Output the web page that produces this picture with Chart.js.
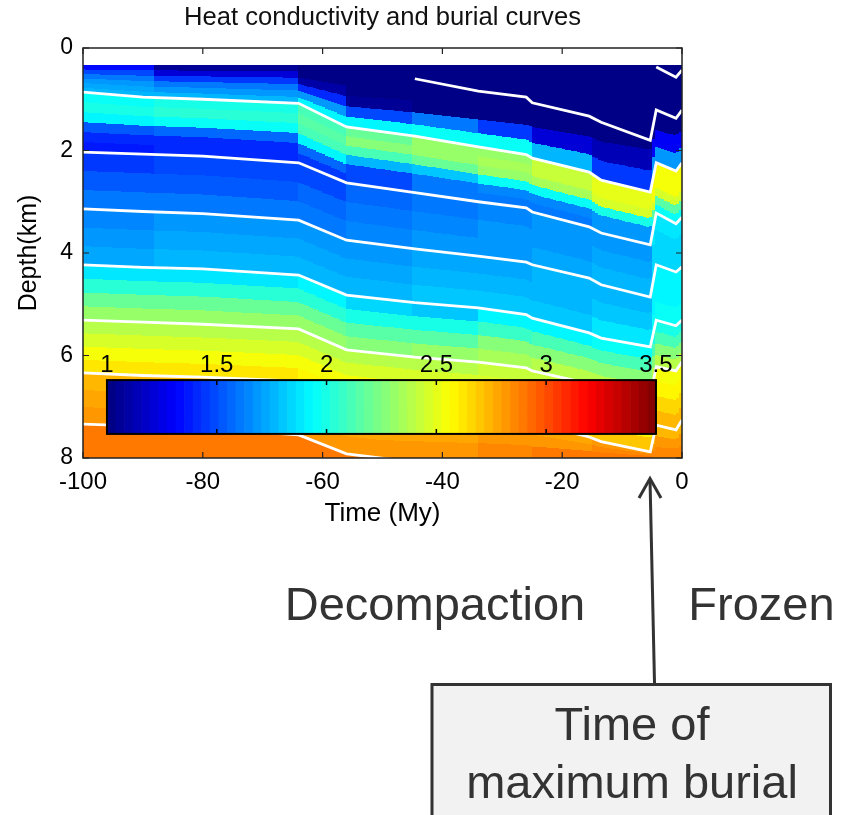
<!DOCTYPE html>
<html>
<head>
<meta charset="utf-8">
<title>Heat conductivity and burial curves</title>
<script src="https://cdn.jsdelivr.net/npm/chart.js@4.4.1/dist/chart.umd.min.js"></script>
<style>
  body { margin: 0; background: #fff; }
  #wrap { position: relative; width: 848px; height: 815px; overflow: hidden; }
  #chart { position: absolute; left: 0; top: 0; }
  #notes { position: absolute; left: 0; top: 0; }
</style>
</head>
<body>
<div id="wrap">
  <canvas id="chart" width="848" height="533"></canvas>
  <svg id="notes" width="848" height="815" font-family="Liberation Sans, Arial, sans-serif" font-size="47" fill="#333">
    <line x1="650" y1="479" x2="654.5" y2="683" stroke="#333" stroke-width="3"/>
    <polyline points="639,498 650,478.5 661,498" fill="none" stroke="#333" stroke-width="3"/>
    <rect x="432" y="684.5" width="398.5" height="140" fill="#f2f2f2" stroke="#333" stroke-width="3"/>
    <text x="435" y="620" text-anchor="middle">Decompaction</text>
    <text x="761.5" y="620" text-anchor="middle">Frozen</text>
    <text x="632" y="740" text-anchor="middle">Time of</text>
    <text x="632" y="798" text-anchor="middle">maximum burial</text>
  </svg>
</div>
<script>
// burial curves: depth (km) of each horizon at these times (My)
const times = [-100, -90, -80, -64, -56, -44.6, -34, -26, -25, -15.5, -13.5, -5.3, -4.3, -1, 0];
const h0b = [null, null, null, null, null, null, null, null, null, null, null, null, 0.37, 0.57, 0.43];
const h0a = [null, null, null, null, null, 0.60, 0.84, 0.96, 1.07, 1.33, 1.45, 1.80, 1.21, 1.37, 1.21];
const h1 = [0.86, 0.96, 1.00, 1.08, 1.54, 1.72, 1.93, 2.08, 2.15, 2.42, 2.58, 2.81, 2.24, 2.40, 2.24];
const h2 = [2.03, 2.07, 2.11, 2.24, 2.63, 2.82, 3.00, 3.12, 3.20, 3.49, 3.61, 3.84, 3.22, 3.43, 3.30];
const h3 = [3.14, 3.19, 3.23, 3.36, 3.75, 3.92, 4.06, 4.18, 4.23, 4.49, 4.62, 4.86, 4.23, 4.37, 4.27];
const h4 = [4.23, 4.28, 4.31, 4.43, 4.82, 4.97, 5.07, 5.20, 5.27, 5.56, 5.66, 5.83, 5.31, 5.42, 5.31];
const h5 = [5.31, 5.35, 5.39, 5.48, 5.89, 6.03, 6.13, 6.24, 6.30, 6.55, 6.64, 6.80, 6.22, 6.30, 6.12];
const h6 = [6.34, 6.39, 6.42, 6.50, 6.88, 7.02, 7.13, 7.25, 7.32, 7.59, 7.68, 7.88, 7.36, 7.45, 7.26];
const h7 = [7.34, 7.38, 7.42, 7.55, 7.92, 8.08, 8.20, null, null, null, null, null, null, null, null];

// heat conductivity (W/m/K): one row per time slice, sub-bands from top to bottom of each layer
const topDepth = 0.33;
const epochStarts = [-100, -88, -64, -56, -45, -34, -25, -15, -5];
const condTop = [
  [1.35, 1.5, 1.62, 1.68, 1.72, 1.75],
  [1.05, 1.2, 1.45, 1.62, 1.7, 1.76],
  [1.0, 1.0, 1.1, 1.4, 1.7, 1.9],
  [1.0, 1.0, 1.0, 1.05, 1.5, 1.92],
  [1.0, 1.0, 1.0, 1.02, 1.6, 1.95],
  [1.0, 1.0, 1.0, 1.0, 1.45, 1.95],
  [1.0, 1.0, 1.0, 1.02, 1.2, 1.75],
  [1.0, 1.0, 1.0, 1.02, 1.15, 1.45],
  [1.0, 1.0, 1.0, 1.0, 1.3, 1.7]
];
const condL1 = [
  [1.97, 2.0, 1.92, 1.52, 1.4, 1.38],
  [2.0, 2.02, 1.95, 1.55, 1.42, 1.4],
  [2.1, 2.15, 2.1, 1.9, 1.55, 1.45],
  [2.2, 2.25, 2.1, 1.75, 1.5, 1.5],
  [2.3, 2.3, 2.2, 1.8, 1.62, 1.6],
  [2.32, 2.33, 2.3, 1.95, 1.65, 1.62],
  [2.42, 2.43, 2.35, 1.95, 1.65, 1.62],
  [2.5, 2.52, 2.45, 2.0, 1.7, 1.68],
  [2.55, 2.56, 2.55, 2.45, 2.15, 1.95]
];
const condL2 = [
  [1.45, 1.52, 1.6], [1.47, 1.54, 1.62], [1.5, 1.55, 1.62], [1.55, 1.6, 1.65], [1.62, 1.65, 1.68],
  [1.66, 1.68, 1.7], [1.68, 1.7, 1.72], [1.7, 1.72, 1.75], [1.87, 1.85, 1.83]
];
const condL3 = [
  [1.66, 1.7, 1.74], [1.67, 1.71, 1.75], [1.68, 1.72, 1.76], [1.7, 1.74, 1.78], [1.72, 1.76, 1.8],
  [1.74, 1.77, 1.8], [1.76, 1.78, 1.8], [1.78, 1.82, 1.86], [1.9, 1.93, 1.95]
];
const condL4 = [
  [1.88, 2.05, 2.2, 2.32], [1.88, 2.05, 2.2, 2.32], [1.9, 2.05, 2.2, 2.3], [1.85, 2.0, 2.15, 2.28],
  [1.82, 2.0, 2.15, 2.3], [1.9, 2.08, 2.25, 2.35], [1.92, 2.1, 2.25, 2.38], [1.95, 2.1, 2.25, 2.38],
  [1.98, 2.1, 2.25, 2.38]
];
const condL5 = [
  [2.38, 2.45, 2.53, 2.62], [2.38, 2.45, 2.53, 2.62], [2.38, 2.45, 2.53, 2.6], [2.38, 2.45, 2.53, 2.6],
  [2.4, 2.47, 2.55, 2.62], [2.42, 2.48, 2.55, 2.63], [2.44, 2.5, 2.57, 2.65], [2.46, 2.52, 2.6, 2.68],
  [2.55, 2.6, 2.66, 2.72]
];
const condL6 = [
  [2.72, 2.77, 2.8], [2.72, 2.77, 2.8], [2.72, 2.77, 2.8], [2.72, 2.77, 2.82], [2.72, 2.77, 2.82],
  [2.75, 2.8, 2.85], [2.78, 2.83, 2.88], [2.8, 2.85, 2.88], [2.74, 2.8, 2.85]
];
const condL7 = [
  [2.88, 2.9], [2.88, 2.9], [2.88, 2.9], [2.88, 2.9], [2.88, 2.9],
  [null, null], [null, null], [null, null], [null, null]
];

// colour bar
const cbarMin = 1, cbarMax = 3.5;
const cbarTicks = [1, 1.5, 2, 2.5, 3, 3.5];
const cbarBox = { t0: -96, t1: -4.35, d0: 6.48, d1: 7.53 };

const chartTitle = 'Heat conductivity and burial curves';
const FONT = 'Liberation Sans, Arial, sans-serif';
Chart.defaults.font.family = FONT;
Chart.defaults.color = '#000';

// matlab style jet colormap, 64 levels
function jet(v) {
  let i = Math.floor((v - cbarMin) / (cbarMax - cbarMin) * 64);
  i = Math.max(0, Math.min(63, i));
  const f = (i + 0.5) / 64;
  const c = k => Math.round(255 * Math.max(0, Math.min(1, 1.5 - Math.abs(4 * f - k))));
  return 'rgb(' + c(3) + ',' + c(2) + ',' + c(1) + ')';
}

function depthAt(h, t) {
  for (let i = 0; i < times.length - 1; i++) {
    if (t >= times[i] && t <= times[i + 1]) {
      const a = h[i], b = h[i + 1];
      if (a == null || b == null) return null;
      return a + (b - a) * (t - times[i]) / (times[i + 1] - times[i]);
    }
  }
  return null;
}

const heatmap = {
  id: 'heatmap',
  beforeDatasetsDraw(chart) {
    const { ctx, chartArea: a, scales: { x, y } } = chart;
    const layers = [condTop, condL1, condL2, condL3, condL4, condL5, condL6, condL7];
    ctx.save();
    ctx.beginPath();
    ctx.rect(a.left, a.top, a.width, a.height);
    ctx.clip();
    for (let t0 = -100; t0 < 0; t0 += 0.5) {
      const tc = t0 + 0.25;
      let e = 0;
      while (e + 1 < epochStarts.length && epochStarts[e + 1] <= tc) e++;
      const b = [topDepth];
      [h1, h2, h3, h4, h5, h6, h7].forEach(h => {
        const d = depthAt(h, tc);
        b.push(d == null ? 8 : Math.min(d, 8));
      });
      b.push(8);
      const xa = Math.floor(x.getPixelForValue(t0));
      const xb = Math.ceil(x.getPixelForValue(t0 + 0.5));
      layers.forEach((L, k) => {
        const vals = L[e], d0 = b[k], d1 = b[k + 1];
        vals.forEach((v, j) => {
          if (v == null) return;
          const ya = Math.round(y.getPixelForValue(d0 + (d1 - d0) * j / vals.length));
          const yb = Math.round(y.getPixelForValue(d0 + (d1 - d0) * (j + 1) / vals.length));
          if (yb <= ya) return;
          ctx.fillStyle = jet(v);
          ctx.fillRect(xa, ya, xb - xa, yb - ya);
        });
      });
    }
    ctx.restore();
  }
};

const colorbar = {
  id: 'colorbar',
  afterDatasetsDraw(chart) {
    const { ctx, scales: { x, y } } = chart;
    const X0 = x.getPixelForValue(cbarBox.t0), X1 = x.getPixelForValue(cbarBox.t1);
    const Y0 = y.getPixelForValue(cbarBox.d0), Y1 = y.getPixelForValue(cbarBox.d1);
    const w = (X1 - X0) / 64;
    ctx.save();
    for (let i = 0; i < 64; i++) {
      ctx.fillStyle = jet(cbarMin + (cbarMax - cbarMin) * (i + 0.5) / 64);
      ctx.fillRect(X0 + i * w, Y0, w + 0.6, Y1 - Y0);
    }
    ctx.strokeStyle = '#000';
    ctx.lineWidth = 2;
    ctx.strokeRect(X0, Y0, X1 - X0, Y1 - Y0);
    ctx.lineWidth = 1.5;
    ctx.fillStyle = '#000';
    ctx.font = '24px ' + FONT;
    ctx.textAlign = 'center';
    ctx.textBaseline = 'alphabetic';
    cbarTicks.forEach(v => {
      const px = X0 + (X1 - X0) * (v - cbarMin) / (cbarMax - cbarMin);
      ctx.beginPath();
      ctx.moveTo(px, Y0); ctx.lineTo(px, Y0 + 5);
      ctx.moveTo(px, Y1); ctx.lineTo(px, Y1 - 5);
      ctx.stroke();
      ctx.fillText(String(v), px, Y0 - 8);
    });
    ctx.restore();
  }
};

const frame = {
  id: 'frame',
  afterDraw(chart) {
    const { ctx, chartArea: a, scales: { x, y } } = chart;
    ctx.save();
    ctx.strokeStyle = '#222';
    ctx.lineWidth = 1.5;
    ctx.strokeRect(a.left, a.top, a.width, a.height);
    ctx.lineWidth = 1.2;
    ctx.beginPath();
    x.ticks.forEach(t => {
      const px = x.getPixelForValue(t.value);
      ctx.moveTo(px, a.bottom); ctx.lineTo(px, a.bottom - 6);
      ctx.moveTo(px, a.top); ctx.lineTo(px, a.top + 6);
    });
    y.ticks.forEach(t => {
      const py = y.getPixelForValue(t.value);
      ctx.moveTo(a.left, py); ctx.lineTo(a.left + 6, py);
      ctx.moveTo(a.right, py); ctx.lineTo(a.right - 6, py);
    });
    ctx.stroke();
    // title centred over the axes box, like matlab
    ctx.fillStyle = '#111';
    ctx.font = '25.6px ' + FONT;
    ctx.textAlign = 'center';
    ctx.textBaseline = 'middle';
    ctx.fillText(chartTitle, (a.left + a.right) / 2, 18);
    ctx.restore();
  }
};

const curves = [h0b, h0a, h1, h2, h3, h4, h5, h6, h7];

new Chart(document.getElementById('chart'), {
  type: 'scatter',
  data: {
    datasets: curves.map((h, i) => ({
      label: 'horizon ' + i,
      data: times.map((t, j) => ({ x: t, y: h[j] })),
      showLine: true,
      borderColor: '#ffffff',
      borderWidth: 2.8,
      pointRadius: 0,
      fill: false,
      clip: 0
    }))
  },
  options: {
    responsive: false,
    animation: false,
    devicePixelRatio: 1,
    layout: { padding: { left: 10, right: 166, top: 48, bottom: 0 } },
    plugins: {
      legend: { display: false },
      tooltip: { enabled: false },
      title: { display: false }
    },
    scales: {
      x: {
        type: 'linear',
        min: -100,
        max: 0,
        grid: { display: false, drawTicks: false },
        border: { display: false },
        ticks: { stepSize: 20, font: { size: 24 }, color: '#000', padding: 10, maxRotation: 0 },
        title: { display: true, text: 'Time (My)', font: { size: 26 }, color: '#000', padding: { top: 4, bottom: 4 } },
        afterFit: s => { s.height = 75; }
      },
      y: {
        type: 'linear',
        reverse: true,
        min: 0,
        max: 8,
        grid: { display: false, drawTicks: false },
        border: { display: false },
        ticks: { stepSize: 2, font: { size: 23 }, color: '#000', padding: 10 },
        title: { display: true, text: 'Depth(km)', font: { size: 25 }, color: '#000', padding: { top: 4, bottom: 4 } },
        afterFit: s => { s.width = 73; }
      }
    }
  },
  plugins: [heatmap, colorbar, frame]
});
</script>
</body>
</html>
